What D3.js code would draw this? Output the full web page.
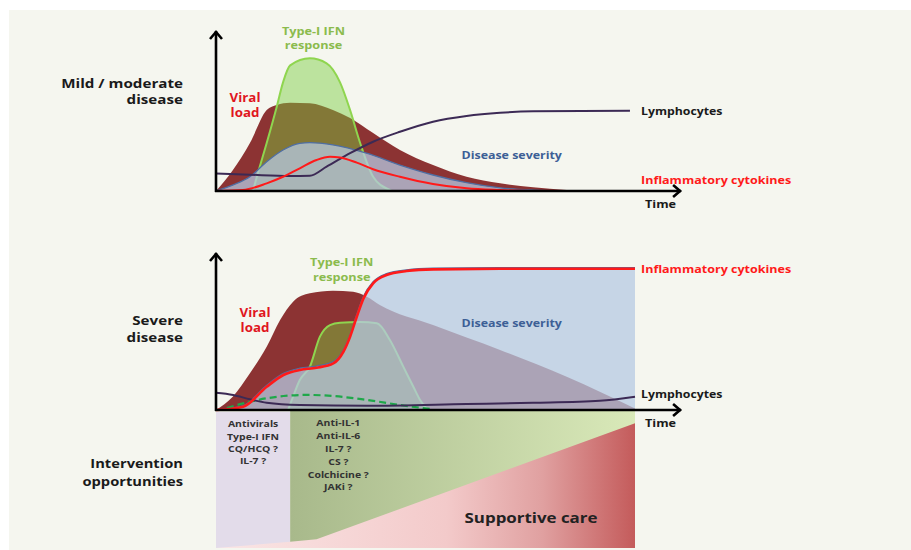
<!DOCTYPE html>
<html><head><meta charset="utf-8">
<script src="https://cdn.jsdelivr.net/npm/d3@7"></script>
<style>html,body{margin:0;padding:0;background:#fff;}svg{display:block;}</style>
</head><body>
<svg id="chart" width="911" height="550"></svg>
<script>
// ---------- DATA (time 0-100, level 0-100) ----------
const mildViralLoad = [[0,0],[4,13],[8.1,30],[12.1,50.6],[14.5,53.8],[17.7,55.2],[22.4,54.8],[27.9,50.6],[32,45.6],[37.5,36.2],[43.9,25.6],[51.8,16.2],[59.8,8.9],[67.8,4.8],[75.7,2.3],[83.7,0.6],[91.6,0]];
const mildIFN = [[8.8,0],[10,11.2],[12.1,30],[14.5,52.7],[16,67.9],[17.7,78.5],[22.4,82.9],[26.4,79.8],[29.6,67.9],[32,50.6],[34.4,30],[37.5,8.9],[41.5,0.6],[42,0]];
const mildSeverity = [[0,0],[4.1,3.8],[8.1,8.9],[12.1,18.3],[16,25.6],[20,29.8],[22.4,30.2],[27.9,28.8],[35.9,23.6],[43.9,16.2],[51.8,10],[59.8,5.2],[67.8,2],[75.7,0.6],[83.7,0]];
const mildLymphocytes = [[0,11],[8.1,10.2],[17.7,9.4],[22.4,9.6],[26.4,15.2],[32,23.6],[37.5,30.8],[43.9,37],[51.8,43.3],[59.8,46.9],[67.8,48.9],[75.7,49.8],[98.8,50.2]];
const mildCytokines = [[0,0],[6.4,0.6],[12.1,4.8],[16,8.9],[20,14.2],[24,19.4],[27.2,21.4],[29.6,21],[33.6,17.7],[37.5,13.6],[43.9,8.9],[51.8,4.4],[59.8,1.7],[67.8,0.6],[75.7,0]];

const severeViralLoad = [[0,0],[4,8.5],[8.1,23.4],[12.1,40.3],[15.3,57.3],[18.4,69],[22.4,74.3],[27.9,76],[32.7,75.3],[36,72.2],[39.1,66.9],[51.8,54.1],[67.8,38.2],[83.7,21.2],[100,1]];
const severeIFN = [[17.2,0],[18.1,6.4],[20,19.1],[22.4,27.6],[24.8,46.7],[27.2,54.1],[29.6,55.6],[34.4,56],[38.4,55.2],[41.5,44.6],[44.7,27.6],[47.1,14.8],[48.7,6.4],[50.6,0]];
const severeSeverity = [[0,0],[6.5,2.8],[12.1,15.8],[16.1,23.3],[20,26.6],[24,28],[28,30.8],[30.4,38.3],[32,48],[33.6,60.8],[35.2,72.4],[37.5,81.7],[40.7,86.8],[45.5,89.3],[51.9,90.3],[67.8,90.7],[100,90.7]];
const severeCytokines = [[0,0],[6.5,2.1],[12.1,14.8],[16.1,22.3],[20,25.5],[24,26.9],[28,29.7],[30.4,37.1],[32,46.7],[33.6,59.4],[35.2,71.1],[37.5,80.7],[40.7,86],[45.5,88.5],[51.9,89.6],[67.8,90],[100,90]];
const severeLymphocytes = [[0,11],[4.1,9.6],[8.1,6.8],[12.1,4.6],[20,3.2],[36,2.7],[59.8,3.8],[75.7,4.6],[91.6,5.9],[100,8.5]];
const severeEarlyIFN = [[2.6,1.3],[8.1,5.3],[16.1,8.9],[21.6,9.6],[28,8.9],[36,6.4],[43.9,3.2],[51.9,0.4]];

// intervention band: time boundaries and supportive-care wedge (level 0-100)
const earlyPhaseEnd = 17.7;
const supportiveCare = [[0,0],[17.7,4.6],[24,6.4],[100,91.7],[100,0]];
const earlyInterventions = ["Antivirals","Type-I IFN","CQ/HCQ ?","IL-7 ?"];
const lateInterventions = ["Anti-IL-1","Anti-IL-6","IL-7 ?","CS ?","Colchicine ?","JAKi ?"];

// ---------- DRAW ----------
const svg = d3.select("#chart");
const FONT = "'Open Sans', sans-serif";
const STRETCH = 1.15;
const defs = svg.append("defs");

svg.append("rect").attr("x",9).attr("y",10).attr("width",902).attr("height",540).attr("fill","#f5f6ef");

const x = d3.scaleLinear().domain([0,100]).range([216,635]);
const xAxisEnd = x(111);
const yMild = d3.scaleLinear().domain([0,100]).range([191,31]);
const ySevere = d3.scaleLinear().domain([0,100]).range([410,253]);
const yInt = d3.scaleLinear().domain([0,100]).range([548,412]);

const C = {
  viral:"#8c3333", ifnFill:"rgba(120,205,60,0.45)", ifnStroke:"#8fd54f",
  sevFill:"rgba(181,202,227,0.75)", sevStroke:"#4f6ea3",
  lymph:"#3c2a55", cyto:"#ff1a1a", dash:"#1fa84a"
};

function area(y){ return d3.area().x(d=>x(d[0])).y0(y(0)).y1(d=>y(d[1])).curve(d3.curveMonotoneX); }
function line(y){ return d3.line().x(d=>x(d[0])).y(d=>y(d[1])).curve(d3.curveMonotoneX); }

function drawPanel(g, y, d, severe){
  g.append("path").attr("d",area(y)(d.viral)).attr("fill",C.viral);
  g.append("path").attr("d",area(y)(d.ifn)).attr("fill",C.ifnFill);
  g.append("path").attr("d",line(y)(d.ifn)).attr("fill","none").attr("stroke",C.ifnStroke).attr("stroke-width",2);
  g.append("path").attr("d",area(y)(d.sev)).attr("fill",C.sevFill);
  g.append("path").attr("d",line(y)(d.sev)).attr("fill","none").attr("stroke",C.sevStroke).attr("stroke-width",1.3);
  if(d.dash) g.append("path").attr("d",line(y)(d.dash)).attr("fill","none").attr("stroke",C.dash).attr("stroke-width",2.2).attr("stroke-dasharray","7,4");
  g.append("path").attr("d",line(y)(d.lymph)).attr("fill","none").attr("stroke",C.lymph).attr("stroke-width",2);
  g.append("path").attr("d",line(y)(d.cyto)).attr("fill","none").attr("stroke",C.cyto).attr("stroke-width",severe?2.6:2);
  const ax = g.append("g").attr("stroke","#000").attr("fill","none").attr("stroke-width",2.6);
  ax.append("line").attr("x1",x(0)).attr("x2",x(0)).attr("y1",y(0)+1).attr("y2",y(100));
  ax.append("line").attr("x1",x(0)-1).attr("x2",xAxisEnd).attr("y1",y(0)).attr("y2",y(0));
  ax.append("path").attr("d",`M${x(0)-6},${y(100)+8}L${x(0)},${y(100)+1}L${x(0)+6},${y(100)+8}`);
  ax.append("path").attr("d",`M${xAxisEnd-8},${y(0)-6}L${xAxisEnd-1},${y(0)}L${xAxisEnd-8},${y(0)+6}`);
}

function txt(xp, yp, s, o){
  o = o||{};
  return svg.append("text").attr("transform",`translate(${xp},${yp}) scale(${o.stretch||STRETCH},1)`).attr("dy","0.35em")
    .attr("font-family",FONT).attr("font-weight",700).attr("font-size",o.size||11)
    .attr("fill",o.color||"#1a1a1a").attr("text-anchor",o.anchor||"start").text(s);
}

const gg = defs.append("linearGradient").attr("id","gGreen").attr("gradientUnits","userSpaceOnUse")
  .attr("x1",x(earlyPhaseEnd)).attr("x2",x(100)).attr("y1",0).attr("y2",0);
gg.append("stop").attr("offset",0).attr("stop-color","#a8b98b");
gg.append("stop").attr("offset",1).attr("stop-color","#d9e9b9");
const gp = defs.append("linearGradient").attr("id","gPink").attr("gradientUnits","userSpaceOnUse")
  .attr("x1",x(0)).attr("x2",x(100)).attr("y1",0).attr("y2",0);
gp.append("stop").attr("offset",0).attr("stop-color","#fae6e6");
gp.append("stop").attr("offset",0.55).attr("stop-color","#f3caca");
gp.append("stop").attr("offset",0.78).attr("stop-color","#e0a0a0");
gp.append("stop").attr("offset",1).attr("stop-color","#c45b5b");

svg.append("rect").attr("x",x(0)).attr("y",yInt(100)).attr("width",x(earlyPhaseEnd)-x(0)).attr("height",yInt(0)-yInt(100)).attr("fill","#e3dcea");
svg.append("rect").attr("x",x(earlyPhaseEnd)).attr("y",ySevere(0)).attr("width",x(100)-x(earlyPhaseEnd)).attr("height",yInt(0)-ySevere(0)).attr("fill","url(#gGreen)");
svg.append("path").attr("d",d3.line().x(d=>x(d[0])).y(d=>yInt(d[1]))(supportiveCare)+"Z").attr("fill","url(#gPink)");

drawPanel(svg.append("g"), yMild, {viral:mildViralLoad, ifn:mildIFN, sev:mildSeverity, lymph:mildLymphocytes, cyto:mildCytokines}, false);
drawPanel(svg.append("g"), ySevere, {viral:severeViralLoad, ifn:severeIFN, sev:severeSeverity, lymph:severeLymphocytes, cyto:severeCytokines, dash:severeEarlyIFN}, true);

// ---------- TEXT ----------
const RED="#e0161e", GREEN="#8bbb4d", BLUE="#3d5f96";
txt(183,83,"Mild / moderate",{anchor:"end",size:13.2});
txt(183,99.5,"disease",{anchor:"end",size:13.2});
txt(313.5,31,"Type-I IFN",{anchor:"middle",size:10.5,stretch:1.21,color:GREEN});
txt(313.5,45.5,"response",{anchor:"middle",size:10.5,stretch:1.21,color:GREEN});
txt(245,98.3,"Viral",{anchor:"middle",size:11.6,color:RED});
txt(245,112.7,"load",{anchor:"middle",size:11.6,color:RED});
txt(511.7,155.7,"Disease severity",{anchor:"middle",size:10.8,color:BLUE});
txt(641,111,"Lymphocytes",{size:10.7});
txt(641,180,"Inflammatory cytokines",{size:10.9,color:"#ff1a1a"});
txt(645,204,"Time",{size:11});
txt(183,320,"Severe",{anchor:"end",size:13.2});
txt(183,337,"disease",{anchor:"end",size:13.2});
txt(341.7,262.3,"Type-I IFN",{anchor:"middle",size:10.5,stretch:1.21,color:GREEN});
txt(341.7,277,"response",{anchor:"middle",size:10.5,stretch:1.21,color:GREEN});
txt(255,312.5,"Viral",{anchor:"middle",size:11.6,color:RED});
txt(255,327.5,"load",{anchor:"middle",size:11.6,color:RED});
txt(511.7,323.3,"Disease severity",{anchor:"middle",size:10.8,color:BLUE});
txt(641,269,"Inflammatory cytokines",{size:10.9,color:"#ff1a1a"});
txt(641,394,"Lymphocytes",{size:10.7});
txt(645,423,"Time",{size:11});
txt(183,464,"Intervention",{anchor:"end",size:12.8});
txt(183,481.7,"opportunities",{anchor:"end",size:12.8});
earlyInterventions.forEach((s,i)=>txt((x(0)+x(earlyPhaseEnd))/2,424.3+i*12.2,s,{anchor:"middle",size:9.1,color:"#333"}));
lateInterventions.forEach((s,i)=>txt(338.3,423.3+i*12.8,s,{anchor:"middle",size:9.1,color:"#333"}));
txt(531,518.3,"Supportive care",{anchor:"middle",size:14.7,color:"#222"});
</script>
</body></html>
